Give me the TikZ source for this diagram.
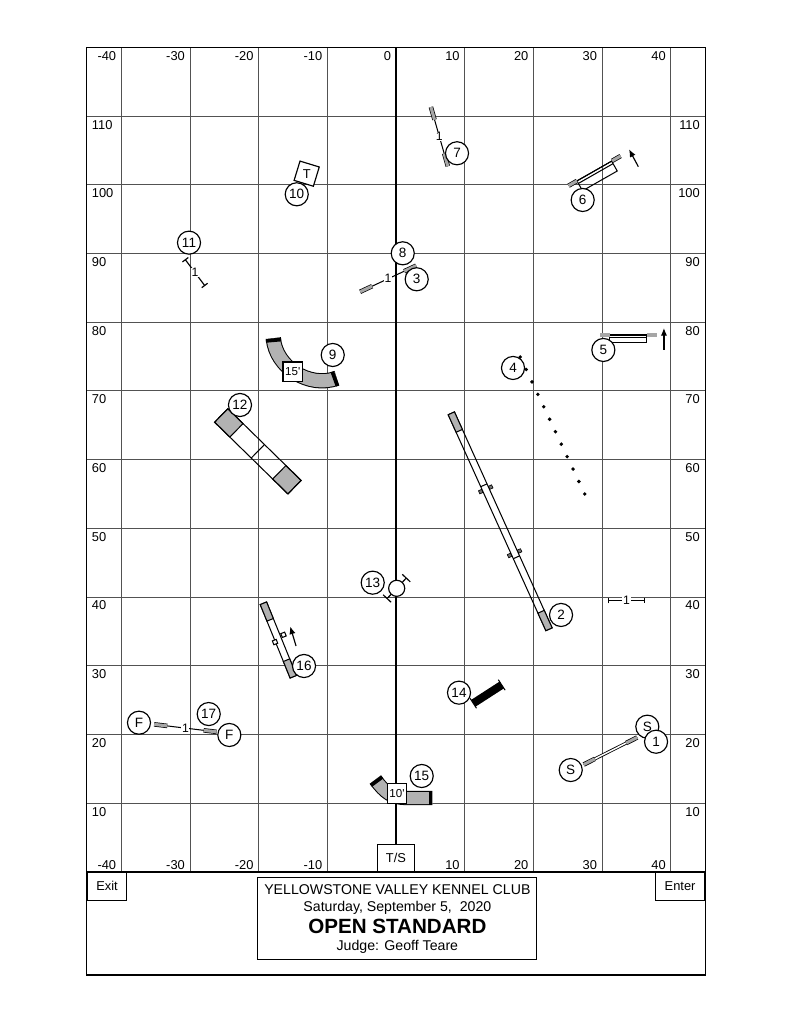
\documentclass[tikz,border=0pt]{standalone}
\usepackage{fontspec}
\setmainfont{Liberation Sans}
\usetikzlibrary{calc,arrows.meta}
\tikzset{
  gridline/.style={line width=0.6pt, black!68},
  axislabel/.style={font=\fontsize{10}{12}\selectfont, inner sep=0pt},
  numbered/.style={circle, draw, line width=0.9pt, fill=white, minimum size=6.3mm,
    inner sep=0pt, font=\fontsize{10.5}{12}\selectfont},
  obst/.style={draw, line width=0.8pt},
  contact/.style={fill=black!30},
  wing/.style={double=black!35, double distance=0.85mm, line width=0.55pt},
  barline/.style={line width=0.8pt},
  barnum/.style={fill=white, inner sep=0.5pt, font=\fontsize{9.5}{11}\selectfont},
  capjump/.style={{Bar[width=#1]}-{Bar[width=#1]}, line width=0.9pt},
  capjump/.default=2mm,
  leg/.style={draw, line width=0.5pt, fill=black!55},
  tube/.style={double=black!30, double distance=#1, line width=0.8pt},
  tubecap/.style={line width=#1, black},
  lenbox/.style={draw, line width=0.9pt, fill=white, minimum size=5.3mm,
    inner sep=0.5pt, font=\fontsize{9}{10}\selectfont},
  dirarrow/.style={-{Latex[length=2.1mm, width=1.7mm]}, line width=0.9pt},
  tire/.style={circle, draw, line width=0.9pt, fill=white, minimum size=4.4mm, inner sep=0pt},
  infobox/.style={draw, line width=0.9pt, inner sep=0pt, font=\fontsize{10}{12}\selectfont}
}
% bar jump: outer end, outer end, bar height
\newcommand{\barjump}[3]{%
  \draw[barline] (#1) -- (#2) node[midway, barnum] {#3};
  \draw[wing] (#1) -- ($(#1)!3.6mm!(#2)$);
  \draw[wing] (#2) -- ($(#2)!3.6mm!(#1)$);
}
% spread jump: corner, angle, length, depth
\newcommand{\spreadjump}[4]{%
  \begin{scope}[shift={#1}, rotate=#2]
    \draw[barline] (1.4,0) -- (#3-1.4,0);
    \draw[obst] (1.4,-#4) rectangle (#3-1.5,0);
    \draw[obst] (1.4,-0.42) -- (#3-1.5,-0.42);
    \draw[wing] (0,0) -- (1.4,0);
    \draw[wing] (#3-1.4,0) -- (#3,0);
  \end{scope}
}

\begin{document}
\begin{tikzpicture}[x=1.8764mm, y=1.8764mm]
\useasboundingbox (-57.64,-22.02) rectangle (57.50,126.88);
% grid
\foreach \x in {-40,-30,...,40} \draw[gridline] (\x,0) -- (\x,120);
\foreach \y in {10,20,...,110} \draw[gridline] (-45,\y) -- (45,\y);
\draw[line width=1.3pt] (0,0) -- (0,120);
\draw[line width=1pt] (-45,-15.04) rectangle (45,120);
\draw[line width=1.3pt] (-45,0) -- (45,0);
\foreach \x in {-40,-30,...,40}
  \node[axislabel, anchor=base east] at (\x-0.7,118.05) {\x};
\foreach \x in {-40,-30,-20,-10,10,20,30,40}
  \node[axislabel, anchor=base east] at (\x-0.7,0.35) {\x};
\foreach \y in {10,20,...,110} {
  \node[axislabel, anchor=base west] at (-44.3,\y-1.9) {\y};
  \node[axislabel, anchor=base east] at (44.25,\y-1.9) {\y};
}

% 1 jump
\coordinate (j1a) at (27.32,15.6);
\coordinate (j1b) at (35.11,19.54);
\draw[double, double distance=0.4mm, line width=0.65pt] (j1a) -- (j1b);
\draw[wing] (j1a) -- ($(j1a)!3.4mm!(j1b)$);
\draw[wing] (j1b) -- ($(j1b)!3.4mm!(j1a)$);

% 2 dog walk
\begin{scope}[shift={(8.05,66.72)}, rotate=-65.66]
  \draw[obst] (0,-0.5) rectangle (34.5,0.5);
  \filldraw[obst, contact] (0,-0.5) rectangle (2.8,0.5);
  \filldraw[obst, contact] (31.7,-0.5) rectangle (34.5,0.5);
  \draw[obst] (11.5,-0.5) -- (11.5,0.5) (23,-0.5) -- (23,0.5);
  \foreach \a in {12.15,22.35}
    \draw[leg] (\a-0.25,0.55) rectangle (\a+0.25,1.05)
               (\a-0.25,-0.55) rectangle (\a+0.25,-1.05);
\end{scope}

% 3 jump
\coordinate (j3a) at (-5.22,84.41);
\coordinate (j3b) at (2.93,88.21);
\barjump{j3a}{j3b}{1}

% 4 weaves
\coordinate (wv1) at (18.09,74.92);
\coordinate (wv2) at (27.47,54.98);
\foreach \i in {0,...,11} \fill ($(wv1)!{\i/11}!(wv2)$) circle (0.28);

% 5 and 6 spread jumps
\spreadjump{(29.73,78.12)}{0}{8.2}{1.16}
\coordinate (a5s) at (39.0,75.94);
\coordinate (a5e) at (39.0,79.14);
\draw[dirarrow] (a5s) -- (a5e);
\spreadjump{(25.12,99.85)}{29.7}{8.71}{1.65}
\coordinate (a6s) at (35.27,102.62);
\coordinate (a6e) at (33.92,105.15);
\draw[dirarrow] (a6s) -- (a6e);

% 7 jump
\coordinate (j7a) at (5.08,111.30);
\coordinate (j7b) at (7.54,102.69);
\barjump{j7a}{j7b}{1}

% 9 tunnel
\coordinate (t9a) at (-17.86,77.64);
\coordinate (t9b) at (-8.63,71.82);
\draw[tube=3.6mm] (t9a) to[out=-85, in=200] (t9b);
\draw[tubecap=4.15mm] (t9a) -- ++(-85:0.55);
\draw[tubecap=4.15mm] (t9b) -- ++(200:0.55);
\node[lenbox] (len9) at (-15.04,72.78) {15\textquotesingle};

% 10 table
\node[draw, line width=0.9pt, fill=white, minimum size=5.5mm, inner sep=0pt,
  rotate=-17] (tbl) at (-13.0,101.6) {};
\node[font=\fontsize{10}{12}\selectfont] at (tbl) {T};

% 11 jump
\coordinate (j11a) at (-30.71,89.14);
\coordinate (j11b) at (-27.80,85.26);
\draw[capjump] (j11a) -- (j11b) node[midway, barnum] {1};

% 12 A-frame
\begin{scope}[shift={(-25.44,66.41)}, rotate=-44.38]
  \filldraw[obst, contact] (0,-1.375) rectangle (3.1,1.375);
  \filldraw[obst, contact] (11.83,-1.375) rectangle (14.93,1.375);
  \draw[obst] (0,-1.375) rectangle (14.93,1.375);
  \draw[obst] (7.46,-1.375) -- (7.46,1.375);
\end{scope}

% 13 tire
\coordinate (tr1) at (-1.35,39.7);
\coordinate (tr2) at (1.55,42.8);
\draw[capjump=3mm] (tr1) -- (tr2);
\node[tire] (tire) at ($(tr1)!0.5!(tr2)$) {};

% 14 broad jump
\coordinate (b14a) at (11.25,24.51);
\coordinate (b14b) at (15.39,27.18);
\draw[line width=2.2mm] (b14a) -- (b14b);
\draw[line width=0.8pt] ($(b14a)!1.6mm!90:(b14b)$) -- ($(b14a)!1.6mm!-90:(b14b)$);
\draw[line width=0.8pt] ($(b14b)!1.7mm!90:(b14a)$) -- ($(b14b)!1.7mm!-90:(b14a)$);

% 15 tunnel
\coordinate (t15a) at (-3.0,13.4);
\coordinate (t15b) at (5.3,10.72);
\draw[tube=3.3mm] (t15a) .. controls (-1.6,11.5) and (-0.6,10.72) .. (1.5,10.72) -- (t15b);
\draw[tubecap=3.85mm] (t15a) -- ++(-53.6:0.55);
\draw[tubecap=3.85mm] (t15b) -- ++(180:0.55);
\node[lenbox] (len15) at (0.15,11.38) {10\textquotesingle};

% 16 teeter
\begin{scope}[shift={(-19.30,39.07)}, rotate=-67.86]
  \draw[obst] (0,-0.5) rectangle (11.54,0.5);
  \filldraw[obst, contact] (0,-0.5) rectangle (2.6,0.5);
  \filldraw[obst, contact] (8.94,-0.5) rectangle (11.54,0.5);
  \draw[obst, fill=white] (5.05,0.68) rectangle (5.65,1.28);
  \draw[obst, fill=white] (5.57,-0.86) rectangle (6.17,-0.26);
\end{scope}
\coordinate (a16s) at (-14.55,32.85);
\coordinate (a16e) at (-15.4,35.7);
\draw[dirarrow] (a16s) -- (a16e);

% 17 jump
\coordinate (j17a) at (-35.2,21.45);
\coordinate (j17b) at (-26.1,20.35);
\barjump{j17a}{j17b}{1}

% spare jump
\coordinate (jxa) at (30.9,39.45);
\coordinate (jxb) at (36.2,39.45);
\draw[capjump=1.5mm] (jxa) -- (jxb) node[midway, barnum] {1};

% start / finish
\node[infobox, fill=white, minimum width=10.3mm, minimum height=7.25mm, anchor=south] (ts) at (0,0) {T/S};

% numbers
\node[numbered] (nS1) at (36.58,21.11) {S};
\node[numbered] (n1) at (37.85,18.92) {1};
\node[numbered] (nS2) at (25.43,14.80) {S};
\node[numbered] (n2) at (24.02,37.37) {2};
\node[numbered] (n3) at (3.01,86.23) {3};
\node[numbered] (n4) at (17.03,73.32) {4};
\node[numbered] (n5) at (30.18,75.94) {5};
\node[numbered] (n6) at (27.17,97.77) {6};
\node[numbered] (n7) at (8.88,104.57) {7};
\node[numbered] (n8) at (0.98,90.01) {8};
\node[numbered] (n9) at (-9.21,75.21) {9};
\node[numbered] (n10) at (-14.45,98.60) {10};
\node[numbered] (n11) at (-30.13,91.56) {11};
\node[numbered] (n12) at (-22.71,67.93) {12};
\node[numbered] (n13) at (-3.39,42.07) {13};
\node[numbered] (n14) at (9.17,26.06) {14};
\node[numbered] (n15) at (3.74,13.93) {15};
\node[numbered] (n16) at (-13.39,29.94) {16};
\node[numbered] (n17) at (-27.26,22.95) {17};
\node[numbered] (nF1) at (-37.41,21.69) {F};
\node[numbered] (nF2) at (-24.26,19.90) {F};

% exit, enter, title
\node[infobox, minimum width=10.7mm, minimum height=7.6mm, anchor=north west] (exit) at (-45,0) {Exit};
\node[infobox, minimum width=13.4mm, minimum height=7.6mm, anchor=north east] (enter) at (45,0) {Enter};
\node[infobox, minimum width=76.2mm, minimum height=22.46mm, anchor=north] (title) at (0.2,-0.73) {};
\node[anchor=base, font=\fontsize{11}{13}\selectfont] (club) at (0.2,-3.38) {YELLOWSTONE VALLEY KENNEL CLUB};
\node[anchor=base, font=\fontsize{11}{13}\selectfont] (date) at (0.2,-5.82) {Saturday, September 5,\ \ 2020};
\node[anchor=base, font=\fontsize{16}{19}\selectfont\bfseries] (class) at (0.2,-8.97) {OPEN STANDARD};
\node[anchor=base, font=\fontsize{11}{13}\selectfont] (judge) at (0.2,-11.4) {Judge: Geoff Teare};
\end{tikzpicture}
\end{document}
